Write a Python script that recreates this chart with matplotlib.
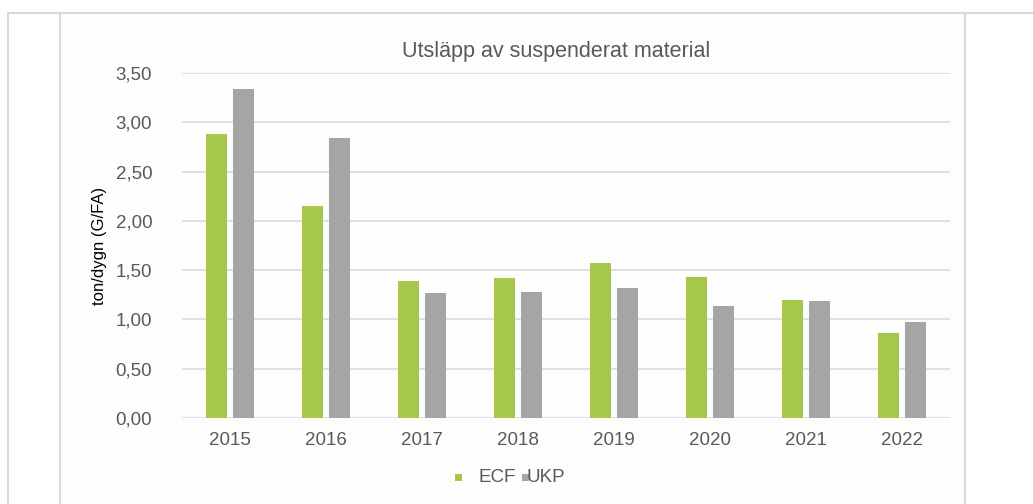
import matplotlib.pyplot as plt
from matplotlib.lines import Line2D
from matplotlib.patches import Rectangle
import numpy as np

plt.rcParams['font.family'] = ['Liberation Sans', 'DejaVu Sans']

years = ['2015', '2016', '2017', '2018', '2019', '2020', '2021', '2022']
ecf = [2.88, 2.15, 1.39, 1.42, 1.57, 1.43, 1.20, 0.86]
ukp = [3.34, 2.84, 1.27, 1.28, 1.32, 1.14, 1.19, 0.97]
yticks = [0.0, 0.5, 1.0, 1.5, 2.0, 2.5, 3.0, 3.5]

green = '#a5c84a'
gray = '#a5a5a5'
txt = '#595959'

fig = plt.figure(figsize=(10.33, 5.04), dpi=100)
W, H = 1033, 504

# outer frames
fig.add_artist(Rectangle((60/W, 0), 905/W, 1 - 13/H, transform=fig.transFigure,
                         facecolor='#fdfdfd', edgecolor='none', zorder=0))
fig.add_artist(Line2D([8/W, 1], [1 - 13/H, 1 - 13/H], color='#d9d9d9', lw=1.5))
for xp in [8, 60, 965]:
    fig.add_artist(Line2D([xp/W, xp/W], [0, 1 - 13/H], color='#d9d9d9', lw=1.5))

ax = fig.add_axes([182/W, 1 - 418/H, 768/W, 345/H])
ax.set_facecolor('none')
x = np.arange(len(years))
w = 0.22
ax.bar(x - 0.145, ecf, w, color=green, zorder=3)
ax.bar(x + 0.145, ukp, w, color=gray, zorder=3)
ax.set_xlim(-0.5, len(years) - 0.5)
ax.set_ylim(0, 3.5)
ax.set_yticks(yticks)
ax.set_yticklabels([f'{v:.2f}'.replace('.', ',') for v in yticks])
ax.set_xticks(x)
ax.set_xticklabels(years)
ax.grid(axis='y', color='#d9d9d9', lw=1.2, zorder=0)
for s in ax.spines.values():
    s.set_visible(False)
ax.tick_params(length=0, labelsize=13.5, colors=txt)
ax.tick_params(axis='y', pad=21.5)
ax.tick_params(axis='x', pad=10)
ax.set_ylabel('ton/dygn (G/FA)', fontsize=12, color='#000000', labelpad=6)

fig.text(556/W, 1 - 52/H, 'Utsläpp av suspenderat material', ha='center', va='center',
         fontsize=15.5, color=txt)

# legend (overlapping entries as in the original)
fig.add_artist(Rectangle((455/W, 1 - 481/H), 7/W, 7/H, transform=fig.transFigure,
                         facecolor=green, edgecolor='none'))
fig.text(479/W, 1 - 477/H, 'ECF', ha='left', va='center', fontsize=13.5, color=txt)
fig.add_artist(Rectangle((522/W, 1 - 481/H), 7/W, 7/H, transform=fig.transFigure,
                         facecolor=gray, edgecolor='none'))
fig.text(527/W, 1 - 477/H, 'UKP', ha='left', va='center', fontsize=13.5, color=txt)

fig.savefig('out.png', dpi=100, facecolor='white')
